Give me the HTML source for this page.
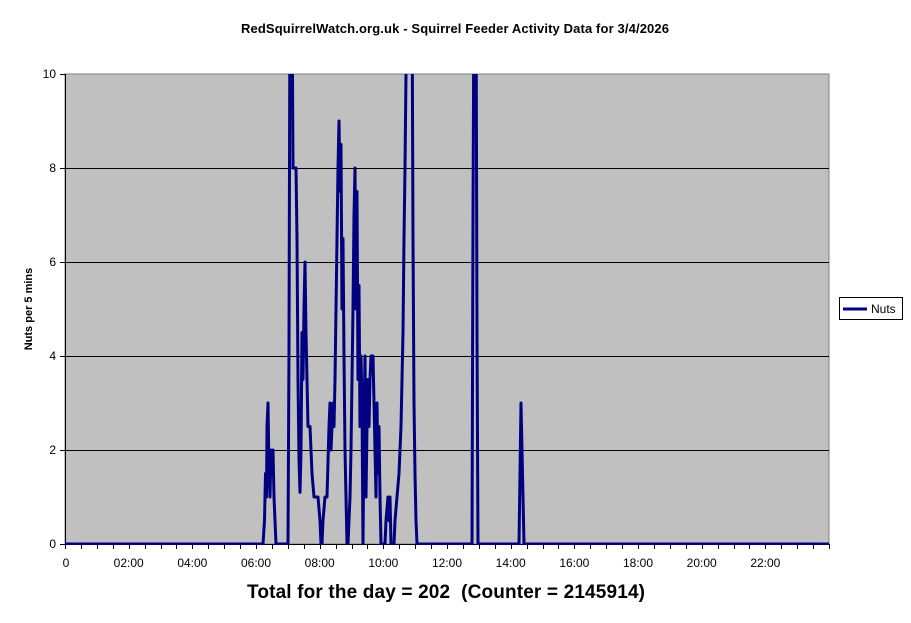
<!DOCTYPE html><html><head><style>body{margin:0;background:#fff}svg{display:block}</style></head><body>
<svg width="911" height="623" xmlns="http://www.w3.org/2000/svg" font-family="Liberation Sans, Arial, sans-serif">
<defs><clipPath id="c"><rect x="65" y="74" width="764" height="471"/></clipPath></defs>
<text x="455" y="33" text-anchor="middle" font-size="13" font-weight="bold" textLength="428">RedSquirrelWatch.org.uk - Squirrel Feeder Activity Data for 3/4/2026</text>
<rect x="65" y="74" width="764" height="470" fill="#c0c0c0" stroke="#808080"/>
<g stroke="#000" stroke-width="1">
<line x1="65" y1="168.5" x2="829" y2="168.5"/><line x1="65" y1="262.5" x2="829" y2="262.5"/><line x1="65" y1="356.5" x2="829" y2="356.5"/><line x1="65" y1="450.5" x2="829" y2="450.5"/>
<line x1="65.5" y1="74" x2="65.5" y2="544"/><line x1="60" y1="544.5" x2="829" y2="544.5"/>
<line x1="60" y1="74.5" x2="65" y2="74.5"/><line x1="60" y1="168.5" x2="65" y2="168.5"/><line x1="60" y1="262.5" x2="65" y2="262.5"/><line x1="60" y1="356.5" x2="65" y2="356.5"/><line x1="60" y1="450.5" x2="65" y2="450.5"/>
</g>
<g id="ticks" stroke="#000"></g>
<g font-size="12" text-anchor="end"><text x="56" y="78">10</text><text x="56" y="172">8</text><text x="56" y="266">6</text><text x="56" y="360">4</text><text x="56" y="454">2</text><text x="56" y="548">0</text></g>
<g font-size="12" text-anchor="middle" id="xl"></g>
<text transform="translate(32,309) rotate(-90)" text-anchor="middle" font-size="11" font-weight="bold">Nuts per 5 mins</text>
<polyline id="p" clip-path="url(#c)" fill="none" stroke="#000080" stroke-width="3" stroke-linejoin="round"/>
<rect x="839.5" y="297.5" width="63" height="22" fill="#fff" stroke="#000"/>
<line x1="843" y1="309" x2="867" y2="309" stroke="#000080" stroke-width="3"/>
<text x="871" y="313" font-size="12">Nuts</text>
<text x="446" y="598" text-anchor="middle" font-size="19" font-weight="bold" textLength="398">Total for the day = 202&#160; (Counter = 2145914)</text>
</svg>
<script>
var d=[65,0,263,0,264.5,0.5,265.5,1.5,266.5,1,267,2.5,268,3,269,1.5,270,1,271,2,272,1.5,273,2,274,1,275,0.5,276,0,288,0,289,4.2,290,12,292,12,293,8,296,8,297,6.5,298,3.5,299,1.8,300,1.1,301,2,302,4.5,303,3.5,304,5,305,6,306,4.5,307,3.5,308,2.5,310,2.5,312,1.5,314,1,318,1,320,0.5,321,0,322,0,323,0.5,325,1,327,1,329,2.5,330,3,331,2,332,2.5,333,3,334,2.5,335,3.5,336,5,337,6.5,338,8,339,9,340,7.5,341,8.5,342,5,343,6.5,344,4,345,2,346,1,347,0,348,0,349,0.5,350,1,351,2,352,3.5,353,5,354,7,355,8,356,5,357,7.5,358,3.5,359,5.5,360,2.5,361,4,362,3,363,0,364,2.5,365,4,366,1,367,2.5,368,3.5,369,2.5,370,3.5,371,4,373,4,374,3,375,2,376,1,377,3,378,1.5,379,2.5,380,1,381,0,385,0,386,0.5,388,1,389,0.5,390,1,391,0,394,0,395,0.5,397,1,399,1.5,401,2.5,403,4.5,404,6.5,405,8,407,12,412,12,413,6.5,414,3,415,1.5,416,0.5,417,0,472,0,473,7,474,12,476,12,477,4.5,478,0,519,0,520,1.5,521,3,522,2,523,1,524,0,829,0];
var s="";for(var i=0;i<d.length;i+=2)s+=d[i]+","+(544-47*d[i+1])+" ";
document.getElementById("p").setAttribute("points",s);
var t="",l="",w=764/24;
for(var h=0;h<=48;h++){var x=Math.round(65+h*w/2)+0.5;t+='<line x1="'+x+'" y1="544" x2="'+x+'" y2="549"/>';}
for(var h=0;h<24;h+=2){var x=65+h*w;l+='<text x="'+(h?x:x+1)+'" y="567">'+(h?(h<10?"0":"")+h+":00":"0")+'</text>';}
document.getElementById("ticks").innerHTML=t;document.getElementById("xl").innerHTML=l;
</script>
</body></html>
